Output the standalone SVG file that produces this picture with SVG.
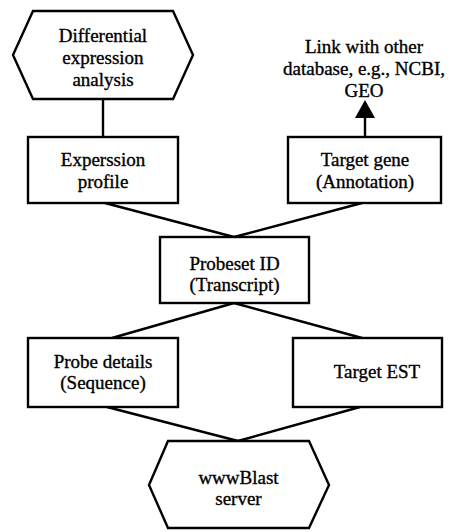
<svg xmlns="http://www.w3.org/2000/svg" width="451" height="532" viewBox="0 0 451 532">
<style>
.n{fill:#fff;stroke:#000;stroke-width:2.4}
.c{fill:none;stroke:#000;stroke-width:2.4}
.t text{font-size:19px;fill:#000;text-anchor:middle;stroke:#000;stroke-width:0.35}
</style>
<rect width="451" height="532" fill="#fff"/>
<g id="connectors">
<line class="c" x1="103" y1="99" x2="103" y2="137"/>
<line class="c" x1="105" y1="203" x2="234" y2="237"/>
<line class="c" x1="362" y1="203" x2="234" y2="237"/>
<line class="c" x1="234" y1="303" x2="112" y2="338"/>
<line class="c" x1="234" y1="303" x2="362" y2="338"/>
<line class="c" x1="107" y1="407" x2="238" y2="441"/>
<line class="c" x1="360" y1="407" x2="238" y2="441"/>
<line class="c" x1="365" y1="137" x2="365" y2="116"/>
<polygon points="365,100 355,118 375,118" fill="#000"/>
</g>
<g class="t" font-family="'Liberation Serif', 'DejaVu Serif', serif">
<g id="n1">
<polygon class="n" points="33,11 173,11 193,55 173,99 33,99 13,55"/>
<text x="103" y="42">Differential</text>
<text x="103" y="64">expression</text>
<text x="103" y="86">analysis</text>
</g>
<g id="n2">
<text x="364" y="53">Link with other</text>
<text x="364" y="75">database, e.g., NCBI,</text>
<text x="364" y="97">GEO</text>
</g>
<g id="n3">
<rect class="n" x="28" y="137" width="150" height="66"/>
<text x="103" y="166">Experssion</text>
<text x="103" y="188">profile</text>
</g>
<g id="n4">
<rect class="n" x="288" y="137" width="153" height="66"/>
<text x="365" y="166">Target gene</text>
<text x="365" y="188">(Annotation)</text>
</g>
<g id="n5">
<rect class="n" x="160" y="237" width="149" height="66"/>
<text x="234.5" y="270">Probeset ID</text>
<text x="234.5" y="291">(Transcript)</text>
</g>
<g id="n6">
<rect class="n" x="28" y="338" width="150" height="69"/>
<text x="103" y="368">Probe details</text>
<text x="103" y="389">(Sequence)</text>
</g>
<g id="n7">
<rect class="n" x="293" y="338" width="149" height="69"/>
<text x="377" y="378">Target EST</text>
</g>
<g id="n8">
<polygon class="n" points="168,441 309,441 329,485 309,528 168,528 149,485"/>
<text x="238.5" y="484">wwwBlast</text>
<text x="238.5" y="505">server</text>
</g>
</g>
</svg>
